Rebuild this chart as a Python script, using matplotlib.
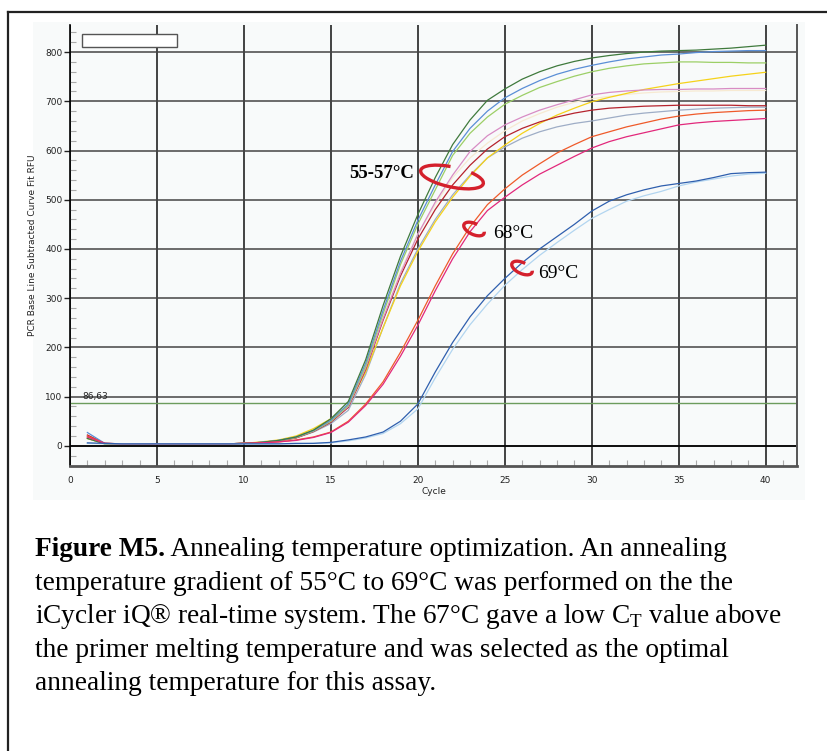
import matplotlib
matplotlib.use('Agg')
import matplotlib.pyplot as plt
from matplotlib.patches import Arc, Rectangle
from matplotlib.lines import Line2D
from matplotlib.ticker import MultipleLocator
from matplotlib.transforms import IdentityTransform

W, H, DPI = 828, 751, 100

######################################################################
# Data
######################################################################

cycles = list(range(1, 41))
threshold = 86.63
threshold_label = '86,63'

# 55-57C wells
rfu_green = [15, 4, 4, 4, 4, 4, 4, 4, 4, 5,
             7, 11, 18, 32, 55, 90, 175, 285, 385, 470,
             545, 612, 662, 702, 725, 745, 760, 772, 781, 788,
             793, 797, 800, 802, 803, 804, 806, 808, 811, 814]
rfu_blue = [27, 5, 4, 4, 4, 4, 4, 4, 4, 5,
            7, 11, 18, 31, 52, 85, 168, 275, 375, 458,
            530, 598, 645, 680, 707, 726, 742, 755, 765, 773,
            780, 786, 790, 794, 796, 799, 801, 802, 803, 803]
rfu_lightgreen = [18, 4, 4, 4, 4, 4, 4, 4, 4, 5,
                  7, 11, 17, 30, 50, 82, 162, 268, 368, 450,
                  520, 590, 635, 668, 694, 712, 728, 740, 751, 760,
                  767, 772, 776, 778, 780, 780, 779, 779, 778, 778]
rfu_orchid = [16, 4, 4, 4, 4, 4, 4, 4, 4, 5,
              7, 11, 17, 30, 50, 80, 158, 258, 350, 430,
              495, 550, 598, 630, 652, 668, 682, 693, 703, 713,
              718, 721, 723, 724, 724, 725, 725, 726, 726, 726]
rfu_cream = [15, 4, 4, 4, 4, 4, 4, 4, 4, 5,
             7, 11, 17, 30, 50, 80, 160, 260, 355, 430,
             490, 545, 585, 615, 640, 660, 675, 688, 698, 705,
             710, 714, 717, 719, 720, 721, 721, 722, 722, 722]
rfu_darkred = [22, 5, 4, 4, 4, 4, 4, 4, 4, 5,
               7, 10, 16, 29, 48, 78, 155, 255, 345, 420,
               480, 530, 570, 603, 628, 645, 658, 668, 676, 682,
               686, 688, 690, 691, 692, 692, 692, 692, 691, 691]
rfu_grayblue = [15, 4, 4, 4, 4, 4, 4, 4, 4, 5,
                6, 10, 16, 28, 45, 72, 145, 240, 330, 400,
                460, 510, 550, 585, 607, 625, 638, 648, 655, 660,
                666, 672, 676, 679, 682, 684, 686, 687, 688, 688]
rfu_yellow = [15, 4, 4, 4, 4, 4, 4, 4, 4, 5,
              8, 12, 20, 35, 55, 82, 150, 240, 325, 395,
              455, 505, 548, 585, 611, 635, 655, 672, 686, 699,
              708, 716, 724, 730, 736, 741, 746, 751, 755, 759]
# 68C wells
rfu_orange = [20, 5, 4, 4, 4, 4, 4, 4, 4, 5,
              6, 8, 12, 18, 28, 50, 85, 130, 190, 255,
              325, 390, 445, 490, 522, 550, 573, 595, 612, 628,
              638, 648, 656, 664, 670, 674, 677, 679, 681, 682]
rfu_deeppink = [18, 5, 4, 4, 4, 4, 4, 4, 4, 5,
                6, 8, 11, 17, 27, 48, 82, 125, 182, 245,
                315, 380, 435, 478, 505, 530, 552, 570, 588, 605,
                618, 628, 636, 644, 652, 656, 659, 661, 663, 665]
# 69C wells
rfu_darkblue = [6, 5, 4, 4, 4, 4, 4, 4, 4, 4,
                4, 4, 5, 5, 7, 12, 18, 28, 50, 85,
                150, 210, 262, 305, 340, 372, 400, 425, 450, 477,
                497, 510, 520, 528, 533, 538, 545, 553, 555, 556]
rfu_lightblue = [5, 4, 4, 4, 4, 4, 4, 4, 4, 4,
                 4, 4, 4, 5, 6, 10, 16, 25, 45, 75,
                 138, 196, 246, 288, 326, 358, 387, 413, 438, 462,
                 480, 497, 508, 517, 528, 536, 542, 548, 552, 554]

caption_bold = 'Figure M5.'
caption_lines = [
    ' Annealing temperature optimization. An annealing',
    'temperature gradient of 55\u00b0C to 69\u00b0C was performed on the the',
    'iCycler iQ\u00ae real-time system. The 67\u00b0C gave a low C$_\\mathrm{T}$ value above',
    'the primer melting temperature and was selected as the optimal',
    'annealing temperature for this assay.',
]


######################################################################
# Plotting
######################################################################

SERIF = ['Liberation Serif', 'DejaVu Serif']


def fig_xy(x, y):
    # image pixel (from top-left) -> figure fraction
    return x / W, 1. - y / H


def ring(fig, cx, cy, w, h, angle, t1, t2):
    fig.patches.append(Arc((cx, H - cy), w, h, angle=angle, theta1=t1,
                           theta2=t2, transform=IdentityTransform(),
                           color='#d4202c', lw=2.4, zorder=3))


def plot_chart():
    plt.rcParams['mathtext.fontset'] = 'custom'
    plt.rcParams['mathtext.rm'] = 'Liberation Serif'
    fig = plt.figure(figsize=(W / DPI, H / DPI), dpi=DPI)

    # faint backdrop of the pasted screenshot
    fig.patches.append(Rectangle(fig_xy(33, 500), 772. / W, 478. / H,
                                 transform=fig.transFigure,
                                 facecolor='#f8fafa', edgecolor='none',
                                 zorder=-5))
    # document frame (open to the right and bottom)
    fig.add_artist(Line2D([8. / W, 1.], [1 - 12. / H] * 2, color='#222',
                          lw=1.6, transform=fig.transFigure))
    fig.add_artist(Line2D([8. / W] * 2, [0., 1 - 12. / H], color='#222',
                          lw=1.6, transform=fig.transFigure))

    ax = fig.add_axes([70. / W, 1 - 466. / H, 727. / W, 441. / H])
    ax.set_facecolor('#f8fafa')
    ax.set_xlim(0, 41.8)
    ax.set_ylim(-41, 855)

    series = [
        (rfu_cream, '#f7ead2'), (rfu_grayblue, '#9eadc6'),
        (rfu_yellow, '#f5d21a'), (rfu_darkred, '#b5232d'),
        (rfu_orchid, '#d88cc4'), (rfu_lightgreen, '#9ccf66'),
        (rfu_blue, '#5a8ed6'), (rfu_green, '#3f7a3c'),
        (rfu_orange, '#ef5a2a'), (rfu_deeppink, '#e2287b'),
        (rfu_lightblue, '#b2d5f0'), (rfu_darkblue, '#2f5fae'),
    ]
    for vals, col in series:
        ax.plot(cycles, vals, color=col, lw=0.9, zorder=3)

    ax.axhline(threshold, color='#6c9c5c', lw=1.0, zorder=2)
    ax.text(0.7, 100, threshold_label, fontsize=6.5, va='center',
            color='#222', zorder=4)
    ax.axhline(0, color='black', lw=1.2, zorder=2)

    ax.xaxis.set_major_locator(MultipleLocator(5))
    ax.xaxis.set_minor_locator(MultipleLocator(1))
    ax.yaxis.set_minor_locator(MultipleLocator(20))
    ax.set_yticks(range(0, 801, 100))
    ax.xaxis.grid(True, which='major', color='#111', lw=1.1)
    ax.yaxis.grid(True, which='major', color='#444', lw=1.1)
    ax.set_axisbelow(True)
    ax.tick_params(axis='y', which='major', direction='out', length=4.5,
                   width=1, pad=1, labelsize=6.5, colors='#222')
    ax.tick_params(axis='x', which='major', length=0, pad=7,
                   labelsize=6.5, colors='#222')
    ax.tick_params(which='minor', direction='in', length=4, width=0.8,
                   color='#aaa')
    ax.spines['top'].set_visible(False)
    ax.spines['left'].set_color('black')
    ax.spines['left'].set_linewidth(1.2)
    ax.spines['bottom'].set_color('#555')
    ax.spines['bottom'].set_linewidth(2)
    ax.spines['right'].set_color('#555')
    ax.spines['right'].set_linewidth(1.4)

    ax.set_xlabel('Cycle', fontsize=6.5, labelpad=2, color='#222')
    ax.set_ylabel('PCR Base Line Subtracted Curve Fit RFU', fontsize=6.5,
                  color='#222')
    ax.yaxis.set_label_coords(-0.045, 0.5)

    # empty legend box
    ax.add_patch(Rectangle((0.0165, 0.950), 0.131, 0.0296,
                           transform=ax.transAxes, facecolor='white',
                           edgecolor='#555', lw=1, zorder=5))

    # hand-drawn temperature annotations
    ring(fig, 452, 177, 64, 20, -12, 110, 385)
    fig.text(*fig_xy(349, 173), '55-57\u00b0C', family=SERIF,
             weight='bold', fontsize=13.5, va='center')
    ring(fig, 474, 229, 22, 11, -25, 80, 370)
    fig.text(*fig_xy(493, 234), '68\u00b0C', family=SERIF, fontsize=14,
             va='center')
    ring(fig, 522, 268, 22, 11, -25, 80, 370)
    fig.text(*fig_xy(538, 274), '69\u00b0C', family=SERIF, fontsize=14,
             va='center')

    # caption
    fs = 19.7
    base = 556
    step = 33.6
    t = fig.text(*fig_xy(35, base), caption_bold, family=SERIF,
                 weight='bold', fontsize=fs, va='baseline')
    fig.canvas.draw()
    bb = t.get_window_extent()
    fig.text(bb.x1 / W, 1 - base / H, caption_lines[0], family=SERIF,
             fontsize=fs, va='baseline')
    for i, line in enumerate(caption_lines[1:]):
        fig.text(*fig_xy(35, base + step * (i + 1)), line, family=SERIF,
                 fontsize=fs, va='baseline')
    return fig


def main():
    fig = plot_chart()
    fig.savefig('out.png', dpi=DPI)


if __name__ == '__main__':
    main()
